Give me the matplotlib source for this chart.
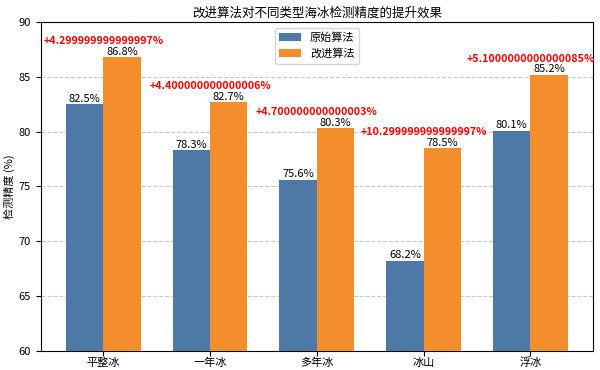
import matplotlib
matplotlib.use("Agg")
import matplotlib.pyplot as plt
import numpy as np

plt.rcParams['font.family'] = ['Noto Sans CJK SC', 'DejaVu Sans']
plt.rcParams['axes.unicode_minus'] = False

categories = ['平整冰', '一年冰', '多年冰', '冰山', '浮冰']
original = [82.5, 78.3, 75.6, 68.2, 80.1]
improved = [86.8, 82.7, 80.3, 78.5, 85.2]

fig, ax = plt.subplots(figsize=(6, 3.7), dpi=100)
x = np.arange(len(categories))
w = 0.35
b1 = ax.bar(x - w/2, original, w, label='原始算法', color='#4e79a7', zorder=3)
b2 = ax.bar(x + w/2, improved, w, label='改进算法', color='#f28e2b', zorder=3)

for bars in (b1, b2):
    for bar in bars:
        h = bar.get_height()
        ax.text(bar.get_x() + bar.get_width()/2, h + 0.05, f'{h}%',
                ha='center', va='bottom', fontsize=8)

for i in range(len(categories)):
    diff = improved[i] - original[i]
    ax.text(x[i], improved[i] + 1.0, f'+{diff}%', ha='center', va='bottom',
            fontsize=7.7, color='red', fontweight='bold')

ax.set_ylim(60, 90)
ax.set_xticks(x)
ax.set_xticklabels(categories, fontsize=8)
ax.tick_params(axis='x', pad=1.5)
ax.tick_params(axis='y', labelsize=8)
ax.set_ylabel('检测精度 (%)', fontsize=8, labelpad=3)
ax.set_title('改进算法对不同类型海冰检测精度的提升效果', fontsize=9, pad=4)
ax.yaxis.grid(True, linestyle='--', alpha=0.7, zorder=0)
ax.legend(loc='upper center', fontsize=8)
fig.subplots_adjust(left=0.068, right=0.988, top=0.94, bottom=0.052)
fig.savefig('out.png', dpi=100)
